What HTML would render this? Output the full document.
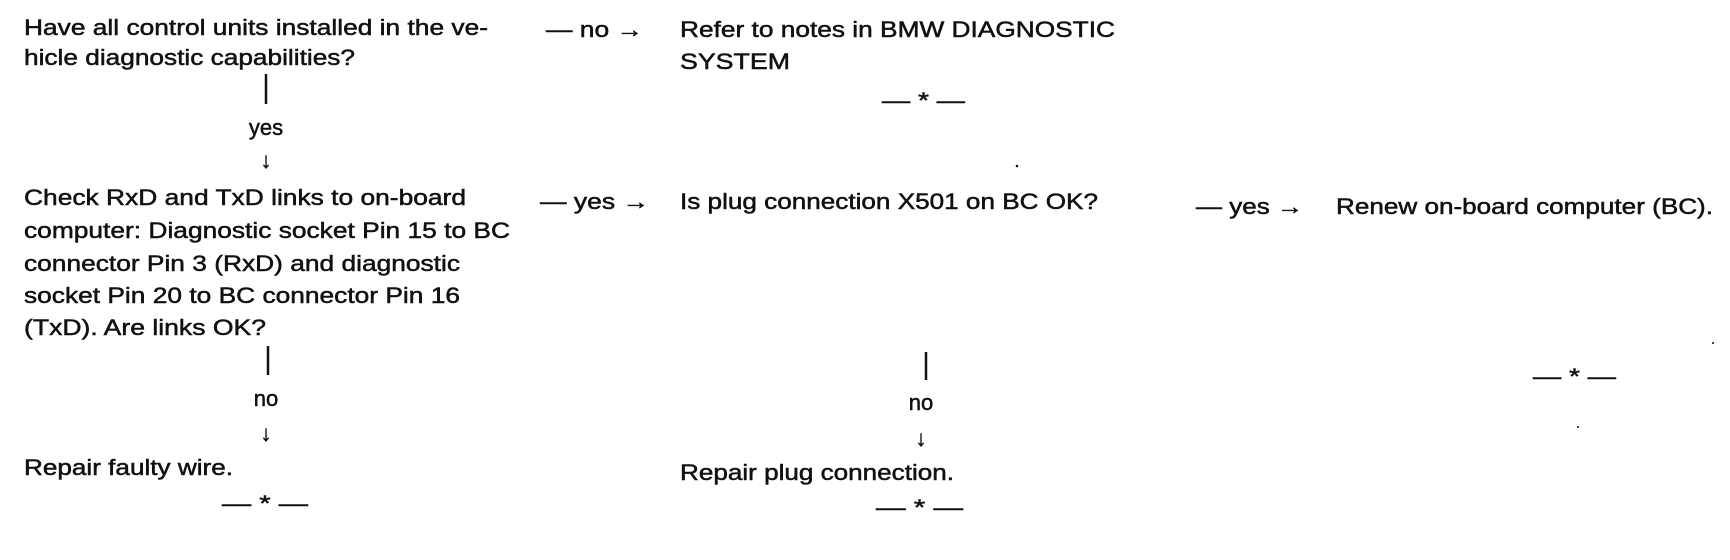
<!DOCTYPE html>
<html>
<head>
<meta charset="utf-8">
<style>
html,body{margin:0;padding:0;background:#fff;}
svg{display:block;}
text{font-family:"Liberation Sans",Arial,sans-serif;font-size:22px;fill:#111;stroke:#111;stroke-width:0.5px;}
</style>
</head>
<body>
<svg width="1730" height="560" viewBox="0 0 1730 560" xmlns="http://www.w3.org/2000/svg">
<g lengthAdjust="spacingAndGlyphs">
<text x="24" y="35" textLength="464" lengthAdjust="spacingAndGlyphs">Have all control units installed in the ve-</text>
<text x="24" y="65" textLength="331" lengthAdjust="spacingAndGlyphs">hicle diagnostic capabilities?</text>
<line x1="266" y1="74" x2="266" y2="104" stroke="#111" stroke-width="2.5"/>
<text x="266" y="135" text-anchor="middle">yes</text>
<text x="266" y="168" text-anchor="middle">↓</text>

<text x="546" y="37" textLength="97" lengthAdjust="spacingAndGlyphs">— no →</text>
<text x="680" y="37" textLength="435" lengthAdjust="spacingAndGlyphs">Refer to notes in BMW DIAGNOSTIC</text>
<text x="680" y="69" textLength="110" lengthAdjust="spacingAndGlyphs">SYSTEM</text>
<text x="882" y="108" textLength="83" lengthAdjust="spacingAndGlyphs">— * —</text>
<circle cx="1017" cy="166" r="1.3" fill="#111"/>

<text x="24" y="205" textLength="442" lengthAdjust="spacingAndGlyphs">Check RxD and TxD links to on-board</text>
<text x="24" y="238" textLength="486" lengthAdjust="spacingAndGlyphs">computer: Diagnostic socket Pin 15 to BC</text>
<text x="24" y="271" textLength="436" lengthAdjust="spacingAndGlyphs">connector Pin 3 (RxD) and diagnostic</text>
<text x="24" y="303" textLength="436" lengthAdjust="spacingAndGlyphs">socket Pin 20 to BC connector Pin 16</text>
<text x="24" y="335" textLength="242" lengthAdjust="spacingAndGlyphs">(TxD). Are links OK?</text>
<line x1="268" y1="346" x2="268" y2="375" stroke="#111" stroke-width="2.5"/>
<text x="266" y="406" text-anchor="middle">no</text>
<text x="266" y="441" text-anchor="middle">↓</text>
<text x="24" y="475" textLength="209" lengthAdjust="spacingAndGlyphs">Repair faulty wire.</text>
<text x="222" y="511" textLength="86" lengthAdjust="spacingAndGlyphs">— * —</text>

<text x="540" y="209" textLength="109" lengthAdjust="spacingAndGlyphs">— yes →</text>
<text x="680" y="209" textLength="418" lengthAdjust="spacingAndGlyphs">Is plug connection X501 on BC OK?</text>
<line x1="926" y1="352" x2="926" y2="380" stroke="#111" stroke-width="2.5"/>
<text x="921" y="410" text-anchor="middle">no</text>
<text x="921" y="446" text-anchor="middle">↓</text>
<text x="680" y="480" textLength="274" lengthAdjust="spacingAndGlyphs">Repair plug connection.</text>
<text x="876" y="515" textLength="87" lengthAdjust="spacingAndGlyphs">— * —</text>

<text x="1196" y="214" textLength="107" lengthAdjust="spacingAndGlyphs">— yes →</text>
<text x="1336" y="214" textLength="377" lengthAdjust="spacingAndGlyphs">Renew on-board computer (BC).</text>
<text x="1533" y="384" textLength="83" lengthAdjust="spacingAndGlyphs">— * —</text>
<circle cx="1713" cy="343" r="1" fill="#111"/>
<circle cx="1578" cy="427" r="1" fill="#111"/>
</g>
</svg>
</body>
</html>
